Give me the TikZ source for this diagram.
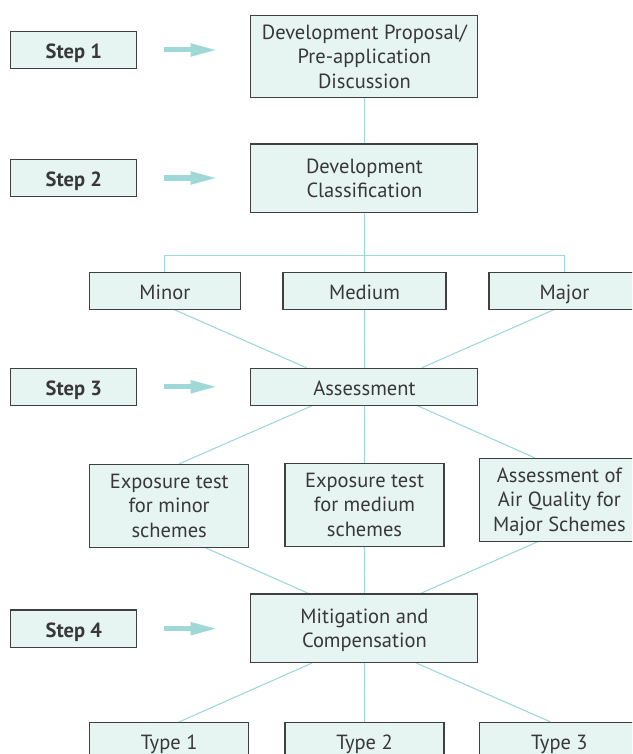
\documentclass[tikz,border=0pt]{standalone}
\usepackage{fontspec}
\setmainfont{PT Sans}
\usetikzlibrary{arrows.meta,backgrounds}
\definecolor{boxfill}{HTML}{E6F4F2}
\definecolor{boxdraw}{HTML}{404040}
\definecolor{linkc}{HTML}{9FD8D6}
\definecolor{txt}{HTML}{383838}
\newcommand\topstrut[1]{\rule{0pt}{#1}}
\newcommand\botstrut[1]{\rule[-#1]{0pt}{#1}}
\begin{document}
\begin{tikzpicture}[x=1pt,y=-1pt,
  basebox/.style={draw=boxdraw, fill=boxfill, line width=1.1pt, inner sep=0pt, align=center, text=txt,
    font=\fontsize{20.5}{24.5}\selectfont},
  box/.style={basebox, execute at begin node=\topstrut{20.75pt}, execute at end node=\botstrut{3.75pt}},
  mbox/.style={basebox, text depth=-8pt},
  stepbox/.style={box, font=\fontsize{20.5}{24.5}\selectfont\bfseries, minimum width=125.8pt, minimum height=37.4pt},
  link/.style={draw=linkc, line width=1.1pt},
  steparrow/.style={draw=linkc, line width=5pt, -{Triangle[length=27pt,width=12pt]}}]
\clip (0,0) rectangle (632,754);
% step boxes
\node[stepbox] (s1) at (73.8,50) {Step 1};
\node[stepbox] (s2) at (73.8,178) {Step 2};
\node[stepbox] (s3) at (73.8,386.8) {Step 3};
\node[stepbox] (s4) at (73.8,628.7) {Step 4};
% main column
\node[mbox, minimum width=227pt, minimum height=82.4pt] (b1) at (364.4,56.5) {Development Proposal/\\Pre-application\\Discussion};
\node[mbox, minimum width=227pt, minimum height=68.7pt] (b2) at (364.4,178.4) {Development\\Classification};
\node[box, minimum width=150.5pt, minimum height=37pt] (minor) at (164.8,290.8) {Minor};
\node[box, minimum width=163pt, minimum height=37pt] (medium) at (364.5,290.8) {Medium};
\node[box, minimum width=151pt, minimum height=37pt] (major) at (564.5,290.8) {Major};
\node[box, minimum width=227pt, minimum height=37pt] (assess) at (364.4,386.8) {Assessment};
\node[mbox, minimum width=159.3pt, minimum height=83pt] (exmin) at (169.2,505.8) {Exposure test\\for minor\\schemes};
\node[mbox, minimum width=159pt, minimum height=82.7pt] (exmed) at (364.5,504.7) {Exposure test\\for medium\\schemes};
\node[mbox, text depth=-1pt, minimum width=159.2pt, minimum height=82.7pt] (aq) at (559.4,499.7) {Assessment of\\Air Quality for\\Major Schemes};
\node[mbox, text depth=-3pt, minimum width=227pt, minimum height=68.7pt] (mit) at (364.4,628.3) {Mitigation and\\Compensation};
\node[box, minimum width=159.3pt, minimum height=37.7pt] (t1) at (169.2,741.2) {Type 1};
\node[box, minimum width=159pt, minimum height=37.7pt] (t2) at (364.5,741.2) {Type 2};
\node[box, minimum width=159.2pt, minimum height=37.7pt] (t3) at (559.4,741.2) {Type 3};
\coordinate (bar) at (364.4,255.7);
% step arrows
\draw[steparrow] ([xshift=26.3pt]s1.east) -- ([xshift=-32.8pt]b1.west |- s1.east);
\draw[steparrow] ([xshift=26.3pt]s2.east) -- ([xshift=-32.8pt]b2.west |- s2.east);
\draw[steparrow] ([xshift=26.3pt]s3.east) -- ([xshift=-32.8pt]assess.west |- s3.east);
\draw[steparrow] ([xshift=26.3pt]s4.east) -- ([xshift=-32.8pt]mit.west |- s4.east);
% connectors
\begin{scope}[on background layer]
\draw[link] (b1.south) -- (b2.north);
\draw[link] (b2.south) -- (medium.north);
\draw[link] (minor.north) -- (minor.north |- bar) -- (major.north |- bar) -- (major.north);
\draw[link] ([xshift=9.8pt]minor.south) -- ([xshift=-57.9pt]assess.north);
\draw[link] (medium.south) -- (assess.north);
\draw[link] ([xshift=-10.9pt]major.south) -- ([xshift=57.4pt]assess.north);
\draw[link] ([xshift=-52.7pt]assess.south) -- ([xshift=10.2pt]exmin.north);
\draw[link] (assess.south) -- (exmed.north);
\draw[link] ([xshift=53.3pt]assess.south) -- ([xshift=-24.7pt]aq.north);
\draw[link] ([xshift=36.4pt]exmin.south) -- ([xshift=-55.9pt]mit.north);
\draw[link] (exmed.south) -- (mit.north);
\draw[link] ([xshift=-21.4pt]aq.south) -- ([xshift=56.2pt]mit.north);
\draw[link] ([xshift=-52.7pt]mit.south) -- ([xshift=10.2pt]t1.north);
\draw[link] (mit.south) -- (t2.north);
\draw[link] ([xshift=52.1pt]mit.south) -- ([xshift=-9pt]t3.north);
\end{scope}
\end{tikzpicture}
\end{document}
